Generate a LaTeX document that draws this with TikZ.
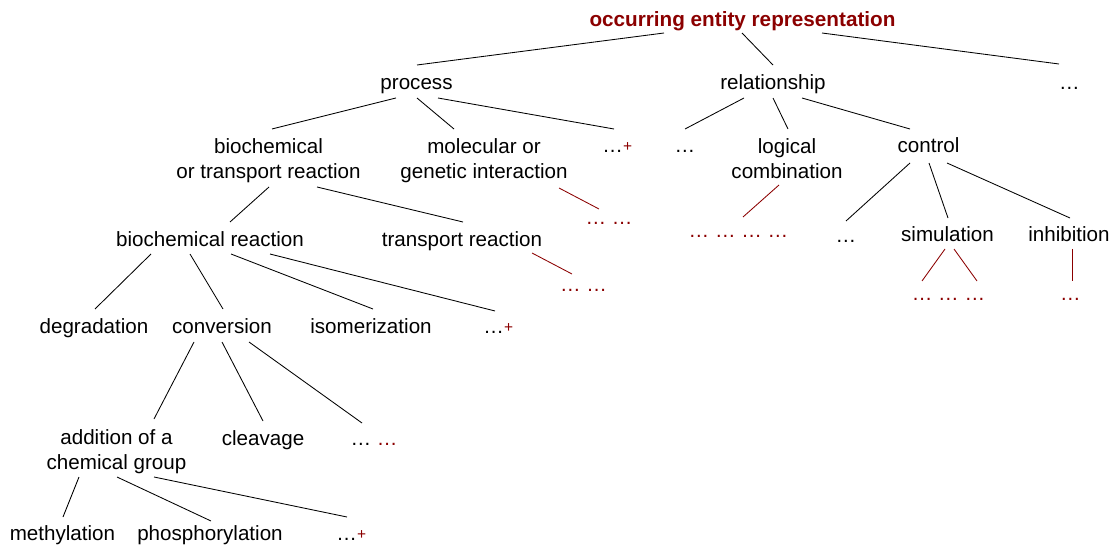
\documentclass[tikz,border=0pt]{standalone}
\usepackage{fontspec}
\setmainfont{Liberation Sans}
\definecolor{dred}{RGB}{139,0,0}
\newcommand\twolines[2]{\begin{tabular}[t]{@{}c@{}}#1\\#2\end{tabular}}
\newcommand\plusmark{{\color{dred}\fontsize{15.5}{15.5}\selectfont\raisebox{1pt}{+}}}
\newcommand\myedge[5][conn]{\draw[#1] ([shift={(#3)}]#2.base) -- ([shift={(#5)}]#4.base);}
\tikzset{
  lbl/.style={anchor=base, inner sep=0pt, outer sep=0pt},
  conn/.style={draw=black, line width=0.85pt},
  connred/.style={draw=dred, line width=0.85pt},
}
\begin{document}
\begin{tikzpicture}[x=1pt, y=-1pt, font=\fontsize{20.6}{25}\selectfont]
\useasboundingbox (0,0) rectangle (1111,545);
% nodes
\node[lbl, font=\fontsize{20.7}{25}\selectfont\bfseries, text=dred] (title) at (742.5,27) {occurring entity representation};
\node[lbl] (process) at (416.5,90) {process};
\node[lbl] (relationship) at (773,90) {relationship};
\node[lbl] (topdots) at (1069.5,90) {…};
\node[lbl] (bot) at (268.5,154) {\twolines{biochemical}{or transport reaction}};
\node[lbl] (mgi) at (484,154) {\twolines{molecular or}{genetic interaction}};
\node[lbl] (pdots) at (617.3,153) {…\plusmark};
\node[lbl] (rdots) at (685,153) {…};
\node[lbl] (logic) at (787,154) {\twolines{logical}{combination}};
\node[lbl] (control) at (928.5,153) {control};
\node[lbl, text=dred] (mred) at (609,225) {… …};
\node[lbl, text=dred] (lred) at (738.5,238) {… … … …};
\node[lbl] (cdots) at (846,243) {…};
\node[lbl] (simulation) at (947.5,242) {simulation};
\node[lbl] (inhibition) at (1069,242) {inhibition};
\node[lbl] (bioreac) at (210,247) {biochemical reaction};
\node[lbl] (transport) at (462,247) {transport reaction};
\node[lbl, text=dred] (tred) at (583.5,292) {… …};
\node[lbl, text=dred] (sred) at (948.5,301) {… … …};
\node[lbl, text=dred] (ired) at (1070.5,301) {…};
\node[lbl] (degradation) at (94,334) {degradation};
\node[lbl] (conversion) at (222,334) {conversion};
\node[lbl] (isomerization) at (371,334) {isomerization};
\node[lbl] (bdots) at (498.3,334) {…\plusmark};
\node[lbl] (addition) at (116.5,444) {\twolines{addition of a}{chemical group}};
\node[lbl] (cleavage) at (263,445) {cleavage};
\node[lbl] (cdots2) at (374,445) {… {\color{dred}…}};
\node[lbl] (methylation) at (62.5,540) {methylation};
\node[lbl] (phosphorylation) at (210,540) {phosphorylation};
\node[lbl] (adots) at (351.3,540) {…\plusmark};
% connectors
\myedge{title}{-78.5,6}{process}{0.5,-25}
\myedge{title}{-0.5,6}{relationship}{0,-25}
\myedge{title}{79.5,6}{topdots}{-10.5,-26}
\myedge{process}{-20.5,8}{bot}{3.5,-25}
\myedge{process}{0.5,8}{mgi}{-30,-25}
\myedge{process}{21.5,8}{pdots}{-3.3,-24}
\myedge{relationship}{-29,8}{rdots}{0,-24}
\myedge{relationship}{0,8}{logic}{1,-25}
\myedge{relationship}{29,8}{control}{-18.5,-24}
\myedge{bot}{0.5,33}{bioreac}{20,-25}
\myedge{bot}{48.5,33}{transport}{1,-25}
\myedge[connred]{mgi}{75,34}{mred}{-10,-16}
\myedge[connred]{logic}{-8,31}{lred}{4.5,-21}
\myedge{control}{-18.5,10}{cdots}{0,-22}
\myedge{control}{0.5,10}{simulation}{0.5,-24}
\myedge{control}{18.5,10}{inhibition}{1,-24}
\myedge{bioreac}{-59,7}{degradation}{1,-25}
\myedge{bioreac}{-20,7}{conversion}{1,-25}
\myedge{bioreac}{21,7}{isomerization}{2,-25}
\myedge{bioreac}{60,7}{bdots}{-3.3,-23}
\myedge[connred]{transport}{70,6}{tred}{-11.5,-18}
\myedge[connred]{simulation}{-2.5,7}{sred}{-26.5,-20}
\myedge[connred]{simulation}{6.5,7}{sred}{28.5,-20}
\myedge[connred]{inhibition}{3,7}{ired}{1.5,-20}
\myedge{conversion}{-28,8}{addition}{37.5,-25}
\myedge{conversion}{0,8}{cleavage}{0,-24}
\myedge{conversion}{27,8}{cdots2}{-12,-22}
\myedge{addition}{-37.5,33}{methylation}{0.5,-23}
\myedge{addition}{0.5,33}{phosphorylation}{1,-19}
\myedge{addition}{37.5,33}{adots}{-4.3,-23}
\end{tikzpicture}
\end{document}
